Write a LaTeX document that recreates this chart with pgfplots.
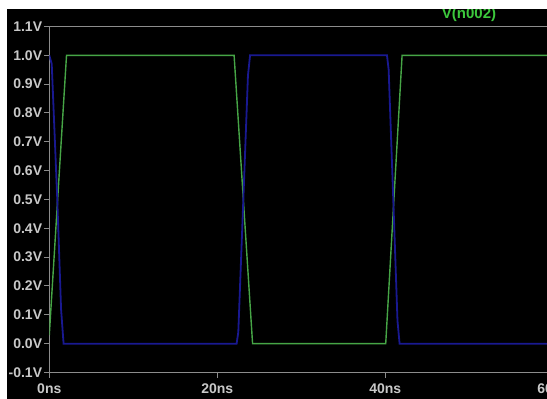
\documentclass[border=0pt]{standalone}
\usepackage{pgfplots}
\pgfplotsset{compat=1.18}
\usepackage{fontspec}
\setmainfont{Liberation Sans}
\definecolor{axgray}{RGB}{140,140,140}
\definecolor{lblgray}{RGB}{200,200,200}
\definecolor{trgreen}{RGB}{70,165,70}
\definecolor{ttlgreen}{RGB}{60,200,60}
\definecolor{trblue}{RGB}{25,25,145}
\begin{document}
\begin{tikzpicture}[x=1pt,y=1pt]
\useasboundingbox (0,0) rectangle (547,399);
\fill[black] (0,0) rectangle (547,399);
\begin{axis}[
  at={(49.3pt,26.5pt)}, anchor=south west,
  scale only axis, width=520.8pt, height=346pt,
  xmin=0, xmax=62, ymin=-0.1, ymax=1.1,
  axis x line=box, axis y line=left,
  axis line style={draw=axgray, line width=1.2pt, -},
  every outer y axis line/.append style={-},
  every outer x axis line/.append style={-},
  xtick pos=left,
  tick align=outside, major tick length=5.5pt,
  tick style={axgray, line width=1pt},
  xtick={0,20,40,60}, xticklabels={0ns,20ns,40ns,60ns},
  ytick={-0.1,0,0.1,0.2,0.3,0.4,0.5,0.6,0.7,0.8,0.9,1.0,1.1},
  yticklabels={-0.1V,0.0V,0.1V,0.2V,0.3V,0.4V,0.5V,0.6V,0.7V,0.8V,0.9V,1.0V,1.1V},
  ticklabel style={font=\fontsize{14}{14}\selectfont\bfseries, text=lblgray},
  yticklabel style={inner sep=1.5pt},
  xticklabel style={inner sep=1.5pt, yshift=-4pt},
]
\addplot[trgreen, line width=1.4pt] coordinates {
 (0,0.03) (2.05,1.0) (22.0,1.0) (24.2,0.0) (40.05,0.0) (42.0,1.0) (62,1.0)
};
\addplot[trblue, line width=1.8pt] coordinates {
 (0,1.0) (0.29,0.97) (0.95,0.5) (1.4,0.12) (1.7,0.0)
 (22.3,0.0) (22.5,0.04) (23.1,0.5) (23.65,0.93) (23.9,1.0)
 (40.2,1.0) (40.4,0.95) (40.95,0.5) (41.45,0.08) (41.7,0.0) (62,0.0)
};
\end{axis}
\node[text=ttlgreen, font=\fontsize{15}{15}\selectfont\bfseries] at (469,384.5) {V(n002)};
\fill[white] (0,390) rectangle (547,399);
\fill[white] (0,0) rectangle (7,399);
\end{tikzpicture}
\end{document}
